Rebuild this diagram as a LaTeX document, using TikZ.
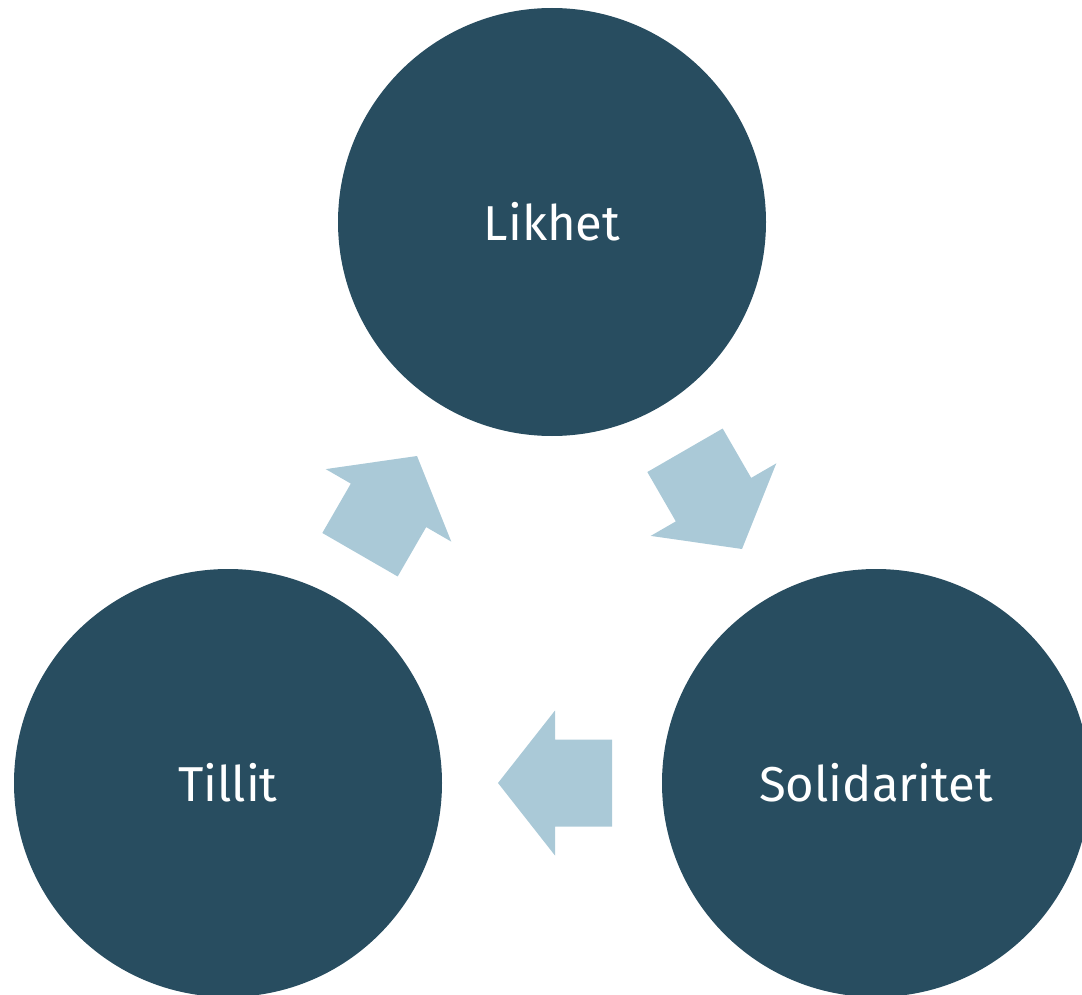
\documentclass[tikz,border=0pt]{standalone}
\usepackage{fontspec}
\setmainfont{Fira Sans}
\definecolor{circfill}{RGB}{40,77,96}
\definecolor{arrfill}{RGB}{170,201,215}
\begin{document}
\begin{tikzpicture}[x=1pt,y=-1pt,
  bigcircle/.style={circle,fill=circfill,draw=none,minimum size=428pt,inner sep=0pt,
    text=white,font=\fontsize{49}{53}\selectfont},
  blockarrow/.style={fill=arrfill,draw=none}]
\useasboundingbox (0,0) rectangle (1082,995);
\clip (0,0) rectangle (1082,995);
\node[bigcircle] (likhet) at (552,222) {Likhet};
\node[bigcircle] (tillit) at (228,783) {Tillit};
\node[bigcircle] (solid) at (876,783) {Solidaritet};
\coordinate (tipA) at (417,456);
\coordinate (tipB) at (742,549);
\coordinate (tipC) at (498,783);
\foreach \t/\a in {tipA/60,tipB/-60,tipC/180}{
  \fill[blockarrow,shift={(\t)},rotate=\a]
    (0,0) -- (-57,72.5) -- (-57,43.5) -- (-114,43.5) -- (-114,-43.5)
    -- (-57,-43.5) -- (-57,-72.5) -- cycle;
}
\end{tikzpicture}
\end{document}
